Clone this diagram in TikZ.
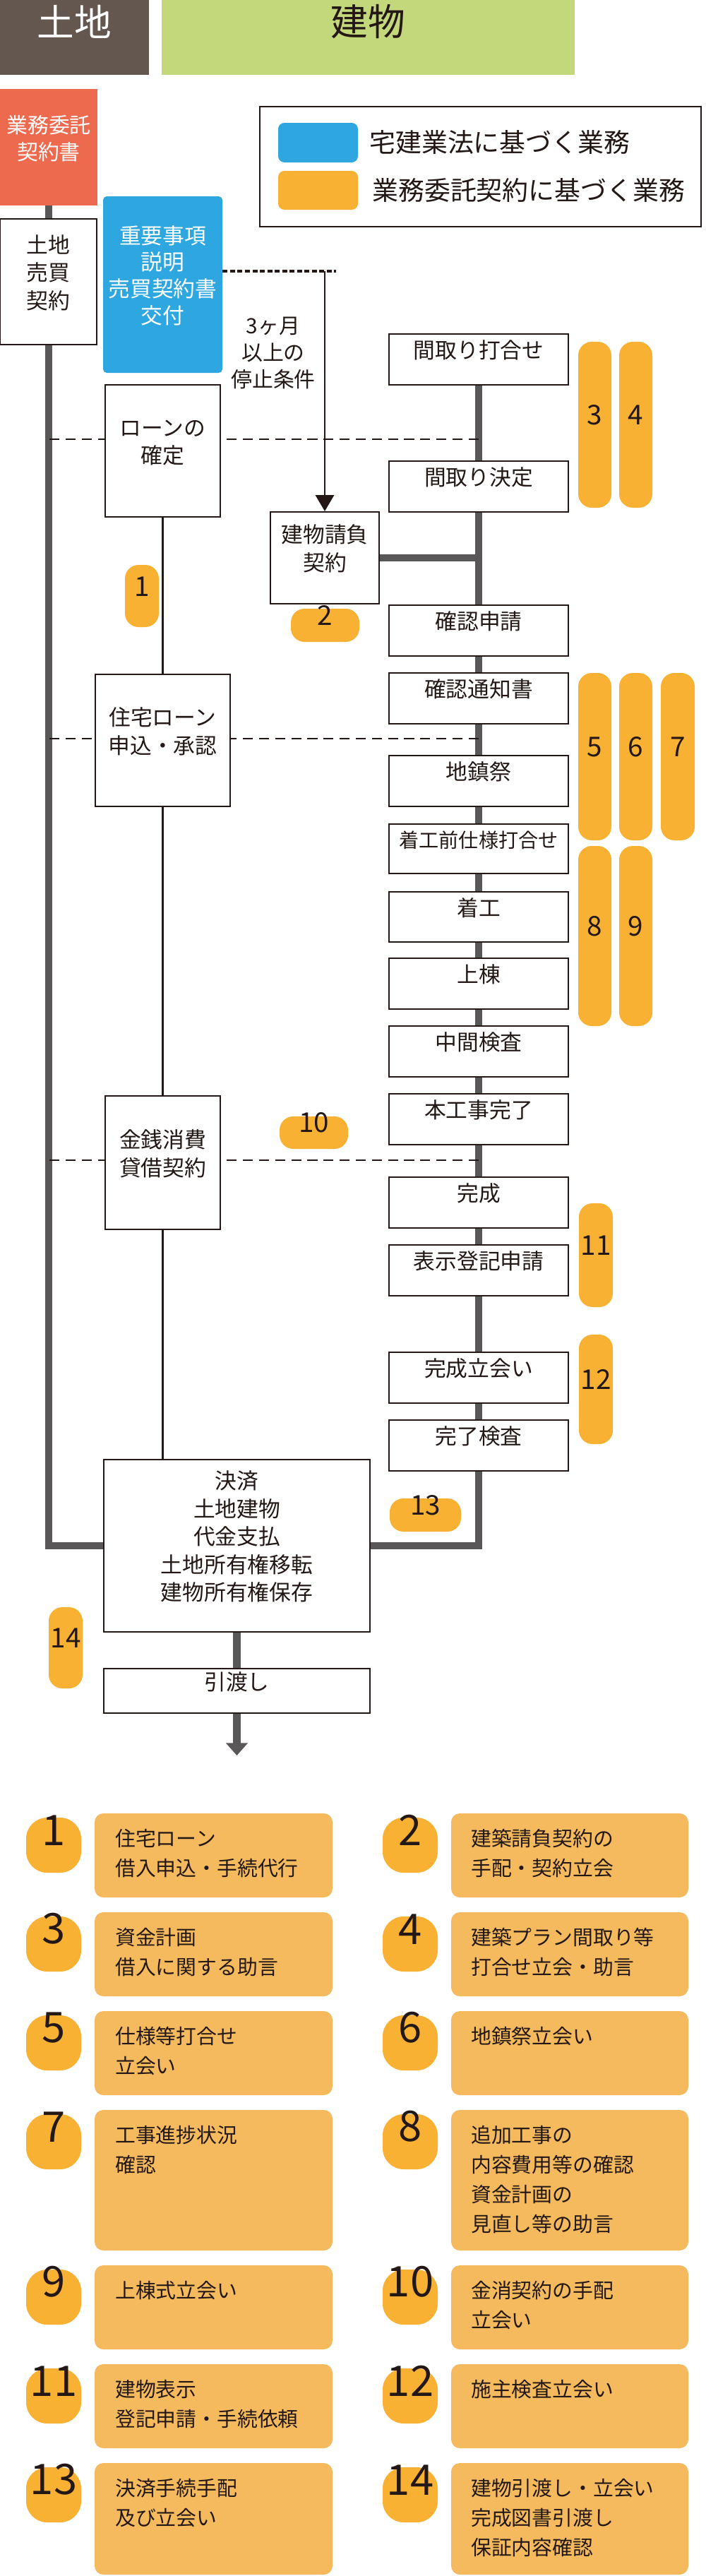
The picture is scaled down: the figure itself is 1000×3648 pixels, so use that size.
\documentclass[tikz,border=0pt]{standalone}
\usepackage{fontspec}
\setmainfont{Noto Sans CJK JP}
\usetikzlibrary{fit,arrows.meta,backgrounds}
\definecolor{lineC}{HTML}{231815}
\definecolor{grayL}{HTML}{595757}
\definecolor{orgC}{HTML}{F8B133}
\definecolor{itemC}{HTML}{F5BA5E}
\definecolor{blueC}{HTML}{2EA7E0}
\definecolor{redC}{HTML}{ED6A4F}
\definecolor{brownC}{HTML}{63574F}
\definecolor{greenC}{HTML}{C3D87B}
\tikzset{
  box/.style={draw=lineC, line width=1.2pt, fill=white, inner sep=0pt, align=center, text=lineC,
    font=\fontsize{17.5}{22.5}\selectfont},
  obar/.style={fill=orgC, rounded corners=11pt, inner sep=0pt, text=lineC, font=\fontsize{22}{24}\selectfont},
  numb/.style={fill=orgC, rounded corners=17pt, inner sep=0pt, text=lineC, font=\fontsize{34}{36}\selectfont},
  itembox/.style={fill=itemC, rounded corners=7pt, inner sep=0pt},
  ltext/.style={anchor=north west, inner sep=0pt, align=left, text=lineC, font=\fontsize{16.4}{23.8}\selectfont},
  thick line/.style={draw=grayL, line width=6.2pt},
  thin line/.style={draw=lineC, line width=1.2pt},
  dashline/.style={draw=lineC, line width=1.2pt, dash pattern=on 8pt off 5pt},
}
\begin{document}
\begin{tikzpicture}[x=0.02cm,y=-0.02cm]
\useasboundingbox (0,0) rectangle (1000,3648);
% headers
\node[fill=brownC, inner sep=0pt, text=white, font=\fontsize{30}{32}\selectfont, fit={(0,0)(211,106)}] (hland) {土地};
\node[fill=greenC, inner sep=0pt, text=lineC, font=\fontsize{30}{32}\selectfont, fit={(229,0)(814,106)}] (hbld) {建物};
% legend
\node[draw=lineC, line width=1.2pt, inner sep=0pt, fit={(368,151)(993,321)}] (legend) {};
\node[fill=blueC, rounded corners=5pt, inner sep=0pt, fit={(394,174)(507,230)}] (sw1) {};
\node[fill=orgC, rounded corners=5pt, inner sep=0pt, fit={(394,242)(507,297)}] (sw2) {};
\node[anchor=west, inner sep=0pt, text=lineC, font=\fontsize{21}{23}\selectfont] (lg1) at (523,201) {宅建業法に基づく業務};
\node[anchor=west, inner sep=0pt, text=lineC, font=\fontsize{21}{23}\selectfont] (lg2) at (527,269) {業務委託契約に基づく業務};
% left column
\node[fill=redC, inner sep=0pt, text=white, align=center, font=\fontsize{17}{21.5}\selectfont, fit={(0,126)(138,291)}] (red) {業務委託\\契約書};
\node[box, fit={(0,310)(137,488)}] (land) {土地\\売買\\契約};
\node[fill=blueC, rounded corners=3pt, inner sep=0pt, text=white, align=center, font=\fontsize{17.5}{21.5}\selectfont, fit={(146,278)(315,528)}] (jyu) {重要事項\\説明\\売買契約書\\交付};
\node[box, fit={(149,545)(312,732)}] (loan) {ローンの\\確定};
\node[box, fit={(135,955)(326,1142)}] (jutaku) {住宅ローン\\申込・承認};
\node[box, fit={(149,1552)(312,1741)}] (kinsen) {金銭消費\\貸借契約};
\node[box, fit={(147,2067)(524,2311)}] (kessai) {決済\\土地建物\\代金支払\\土地所有権移転\\建物所有権保存};
\node[box, fit={(147,2363)(524,2426)}] (hiki) {引渡し};
\coordinate (endarr) at (335.5,2486);
% middle
\node[align=center, inner sep=0pt, text=lineC, font=\fontsize{17}{21.5}\selectfont] (cond) at (387,500) {3ヶ月\\以上の\\停止条件};
\node[box, fit={(383,725)(537,855)}] (ukeoi) {建物請負\\契約};
\coordinate (dotend) at (476,384);
\coordinate (arrtop) at (ukeoi.north |- dotend);
% building column
\node[box, fit={(551,473)(805,545)}] (mt) {間取り打合せ};
\node[box, fit={(551,653)(805,725)}] (mk) {間取り決定};
\node[box, fit={(551,857)(805,929)}] (kshin) {確認申請};
\node[box, fit={(551,953)(805,1025)}] (ktsu) {確認通知書};
\node[box, fit={(551,1070)(805,1142)}] (jichin) {地鎮祭};
\node[box, fit={(551,1167)(805,1237)}, font=\fontsize{16}{20}\selectfont] (maesh) {着工前仕様打合せ};
\node[box, fit={(551,1263)(805,1334)}] (chakko) {着工};
\node[box, fit={(551,1357)(805,1429)}] (jotou) {上棟};
\node[box, fit={(551,1453)(805,1525)}] (chukan) {中間検査};
\node[box, fit={(551,1549)(805,1621)}] (honko) {本工事完了};
\node[box, fit={(551,1667)(805,1739)}] (kansei) {完成};
\node[box, fit={(551,1763)(805,1835)}] (hyouji) {表示登記申請};
\node[box, fit={(551,1915)(805,1987)}] (tachi) {完成立会い};
\node[box, fit={(551,2011)(805,2083)}] (kanryo) {完了検査};
% orange markers
\node[obar, fit={(177,800)(225,888)}] (o1) {1};
\node[obar, fit={(412,862)(509,909)}] (o2) {2};
\node[obar, fit={(819,484)(866,719)}] (o3) {3};
\node[obar, fit={(877,484)(924,719)}] (o4) {4};
\node[obar, fit={(819,953)(866,1190)}] (o5) {5};
\node[obar, fit={(877,953)(924,1190)}] (o6) {6};
\node[obar, fit={(936,953)(984,1190)}] (o7) {7};
\node[obar, fit={(819,1198)(866,1453)}] (o8) {8};
\node[obar, fit={(877,1198)(924,1453)}] (o9) {9};
\node[obar, fit={(396,1581)(493,1627)}] (o10) {10};
\node[obar, fit={(820,1704)(868,1851)}] (o11) {11};
\node[obar, fit={(820,1890)(868,2045)}] (o12) {12};
\node[obar, fit={(552,2122)(653,2169)}] (o13) {13};
\node[obar, fit={(69,2276)(117,2391)}] (o14) {14};
% dashed line coords
\coordinate (d1l) at (70,622); \coordinate (d1r) at (678,622);
\coordinate (d2l) at (70,1046); \coordinate (d2r) at (678,1046);
\coordinate (d3l) at (70,1643); \coordinate (d3r) at (678,1643);
% connectors (background)
\begin{scope}[on background layer]
\draw[thick line] (red.south) -- (red.south |- kessai.west) -- (kessai.west);
\draw[thick line] (kessai.east) -- (kessai.east -| kanryo.south) -- (mt.center);
\draw[thick line] (ukeoi.east) -- (ukeoi.east -| mt.south);
\draw[thick line] (kessai.south) -- (hiki.north);
\draw[thin line] (loan.south) -- (kessai.north -| loan.south);
\draw[dashline] (d1l) -- (d1r);
\draw[dashline] (d2l) -- (d2r);
\draw[dashline] (d3l) -- (d3r);
\end{scope}
\draw[draw=lineC, line width=2.6pt, dash pattern=on 4pt off 2pt] (jyu.east |- dotend) -- (dotend);
\draw[thin line, -{Triangle[width=15pt,length=13pt]}] (arrtop) -- (ukeoi.north);
\draw[thick line, -{Triangle[width=17pt,length=10pt]}, line width=6.2pt] (hiki.south) -- (endarr);
% list
\foreach \n/\T/\H/\txt in {1/2568/119/{住宅ローン\\借入申込・手続代行},3/2708/119/{資金計画\\借入に関する助言},5/2848/119/{仕様等打合せ\\立会い},7/2988/199/{工事進捗状況\\確認},9/3208/119/{上棟式立会い},11/3348/119/{建物表示\\登記申請・手続依頼},13/3488/158/{決済手続手配\\及び立会い}}{
  \node[numb, fit={(37,\T+6)(115,\T+84)}] (b\n) {\n};
  \node[itembox, fit={(134,\T)(471,\T+\H)}] (i\n) {};
  \node[ltext] (t\n) at (163,\T+22) {\txt};
}
\foreach \n/\T/\H/\txt in {2/2568/119/{建築請負契約の\\手配・契約立会},4/2708/119/{建築プラン間取り等\\打合せ立会・助言},6/2848/119/{地鎮祭立会い},8/2988/199/{追加工事の\\内容費用等の確認\\資金計画の\\見直し等の助言},10/3208/119/{金消契約の手配\\立会い},12/3348/119/{施主検査立会い},14/3488/158/{建物引渡し・立会い\\完成図書引渡し\\保証内容確認}}{
  \node[numb, fit={(542,\T+6)(620,\T+84)}] (b\n) {\n};
  \node[itembox, fit={(639,\T)(975,\T+\H)}] (i\n) {};
  \node[ltext] (t\n) at (667,\T+22) {\txt};
}
\end{tikzpicture}
\end{document}
